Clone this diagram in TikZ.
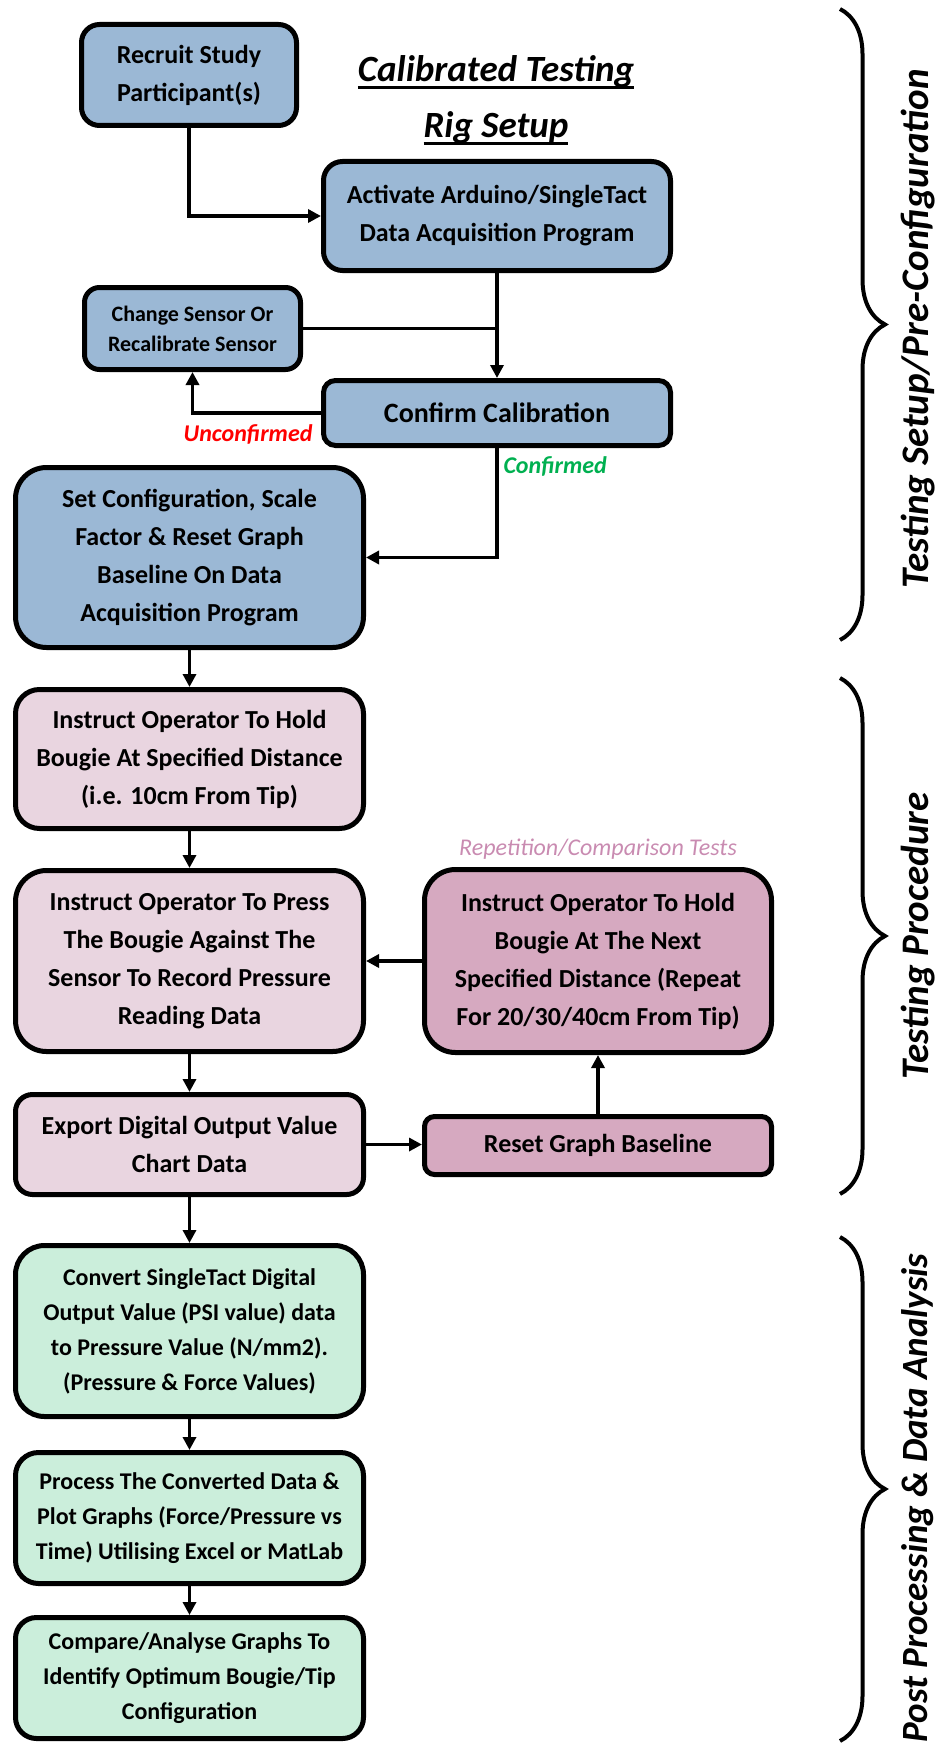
\documentclass[tikz,border=0pt]{standalone}
\usepackage{fontspec}
\setmainfont{Carlito}
\usetikzlibrary{arrows.meta,decorations.pathreplacing}

\definecolor{setupblue}{HTML}{9BB8D5}
\definecolor{procpink}{HTML}{E9D5E0}
\definecolor{reppink}{HTML}{D6A9C0}
\definecolor{postgreen}{HTML}{CBEEDB}
\definecolor{replabel}{HTML}{C98BB1}
\definecolor{okgreen}{HTML}{00B050}

% heavier underline for the heading
\newcommand{\headul}[1]{\setbox0\hbox{#1}\rlap{\rule[-7pt]{\wd0}{2.6pt}}\box0}

\begin{document}
\begin{tikzpicture}[x=1pt, y=-1pt, >={Triangle[length=13pt,width=13pt]},
    stepbox/.style={draw, line width=5pt, rounded corners=#1, align=center, inner sep=0pt,
      font=\fontsize{26}{38}\selectfont\bfseries},
    stepbox/.default=20pt,
    link/.style={line width=3.5pt, ->},
    tag/.style={font=\fontsize{24}{28}\selectfont\bfseries\itshape},
    heading/.style={anchor=base, font=\fontsize{37}{44}\selectfont\bfseries\itshape},
    bracelbl/.style={rotate=90, font=\fontsize{39}{44}\selectfont\bfseries\itshape},
    stagebrace/.style={decorate, decoration={brace, amplitude=45pt}, line width=4pt}]

    \useasboundingbox (0,0) rectangle (938,1744);

    % setup stage
    \node[stepbox=18pt, fill=setupblue, minimum width=215pt, minimum height=101pt] (recruit) at (189,75) {Recruit Study\\Participant(s)};
    \node[heading] (title1) at (496,82) {\headul{Calibrated Testing}};
    \node[heading] (title2) at (496,138) {\headul{Rig Setup}};
    \node[stepbox=19pt, fill=setupblue, minimum width=347pt, minimum height=109pt] (activate) at (497,216) {Activate Arduino/SingleTact\\Data Acquisition Program};
    \node[stepbox=15pt, fill=setupblue, minimum width=216pt, minimum height=82pt, font=\fontsize{22}{30}\selectfont\bfseries] (change) at (192.5,328.5) {Change Sensor Or\\Recalibrate Sensor};
    \node[stepbox=12pt, fill=setupblue, minimum width=347pt, minimum height=65pt, font=\fontsize{28}{34}\selectfont\bfseries] (confirm) at (497,413) {Confirm Calibration};
    \node[stepbox=31pt, fill=setupblue, minimum width=348pt, minimum height=180pt] (setcfg) at (189.5,557.5) {Set Configuration, Scale\\Factor \& Reset Graph\\Baseline On Data\\Acquisition Program};

    \node[tag, text=red, anchor=east] (unconf) at (316,434) {Unconfirmed};
    \node[tag, text=okgreen, anchor=west] (conf) at (500,466) {Confirmed};

    \draw[link] (recruit.south) |- (activate.west);
    \draw[link] (activate.south) -- (confirm.north);
    \draw[line width=3.5pt] (change.east) -- (change.east -| activate.south);
    \draw[link] (confirm.west) -| (change.south);
    \draw[link] (confirm.south) |- (setcfg.east);

    % testing stage
    \node[stepbox=24pt, fill=procpink, minimum width=348pt, minimum height=139pt] (hold) at (189.5,759) {Instruct Operator To Hold\\Bougie At Specified Distance\\(i.e. 10cm From Tip)};
    \node[stepbox=31pt, fill=procpink, minimum width=348pt, minimum height=181pt] (press) at (189.5,961) {Instruct Operator To Press\\The Bougie Against The\\Sensor To Record Pressure\\Reading Data};
    \node[stepbox=31pt, fill=reppink, minimum width=347pt, minimum height=183pt] (nextdist) at (598,961) {Instruct Operator To Hold\\Bougie At The Next\\Specified Distance (Repeat\\For 20/30/40cm From Tip)};
    \node[stepbox=17pt, fill=procpink, minimum width=348pt, minimum height=100pt] (export) at (189.5,1144.5) {Export Digital Output Value\\Chart Data};
    \node[stepbox=10pt, fill=reppink, minimum width=347pt, minimum height=58pt] (reset) at (598,1145.5) {Reset Graph Baseline};
    \node[font=\fontsize{24}{28}\selectfont\itshape, text=replabel] (replbl) at (598,849) {Repetition/Comparison Tests};

    \draw[link] (setcfg.south) -- (hold.north);
    \draw[link] (hold.south) -- (press.north);
    \draw[link] (press.south) -- (export.north);
    \draw[link] (nextdist.west) -- (press.east);
    \draw[link] (export.east) -- (export.east -| reset.west);
    \draw[link] (reset.north) -- (nextdist.south);

    % post processing stage
    \node[stepbox=29pt, fill=postgreen, minimum width=348pt, minimum height=171pt, font=\fontsize{24}{35}\selectfont\bfseries] (convert) at (189.5,1331) {Convert SingleTact Digital\\Output Value (PSI value) data\\to Pressure Value (N/mm2).\\(Pressure \& Force Values)};
    \node[stepbox=23pt, fill=postgreen, minimum width=348pt, minimum height=131pt, font=\fontsize{24}{35}\selectfont\bfseries] (process) at (189.5,1518) {Process The Converted Data \&\\Plot Graphs (Force/Pressure vs\\Time) Utilising Excel or MatLab};
    \node[stepbox=21pt, fill=postgreen, minimum width=348pt, minimum height=121pt, font=\fontsize{24}{35}\selectfont\bfseries] (compare) at (189.5,1678) {Compare/Analyse Graphs To\\Identify Optimum Bougie/Tip\\Configuration};

    \draw[link] (export.south) -- (convert.north);
    \draw[link] (convert.south) -- (process.north);
    \draw[link] (process.south) -- (compare.north);

    % stage braces
    \draw[stagebrace] (840,9) -- (840,640);
    \node[bracelbl] (setuplbl) at (918,329) {Testing Setup/Pre-Configuration};
    \draw[stagebrace] (840,678) -- (840,1194);
    \node[bracelbl] (proclbl) at (918,936) {Testing Procedure};
    \draw[stagebrace] (840,1237) -- (840,1741);
    \node[bracelbl, font=\fontsize{37}{44}\selectfont\bfseries\itshape] (postlbl) at (918,1498) {Post Processing \& Data Analysis};

\end{tikzpicture}
\end{document}
